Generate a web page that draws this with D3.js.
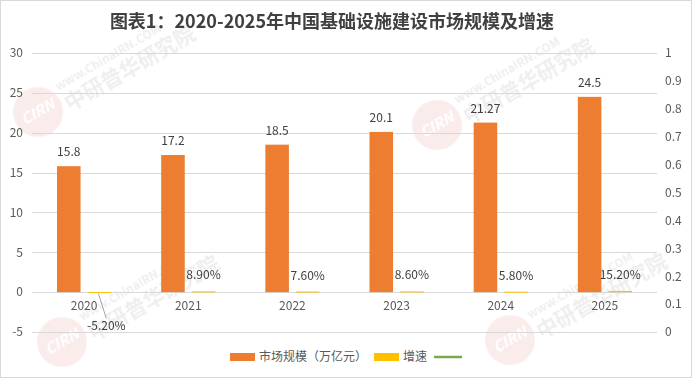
<!DOCTYPE html>
<html>
<head>
<meta charset="utf-8">
<script src="https://cdn.jsdelivr.net/npm/d3@7"></script>
<style>
  html, body { margin: 0; padding: 0; background: #fff; }
  svg { display: block; font-family: "Microsoft YaHei", "Noto Sans CJK SC", "Noto Sans", sans-serif; }
</style>
</head>
<body>
<div id="chart"></div>
<script>
// Data
const years = ["2020", "2021", "2022", "2023", "2024", "2025"]
const marketSize = [15.8, 17.2, 18.5, 20.1, 21.27, 24.5]   // 万亿元
const growthPct = [-5.2, 8.9, 7.6, 8.6, 5.8, 15.2]         // %
const leftTicks = [-5, 0, 5, 10, 15, 20, 25, 30]
const rightTicks = [0, 0.1, 0.2, 0.3, 0.4, 0.5, 0.6, 0.7, 0.8, 0.9, 1]
const titleText = "图表1：2020-2025年中国基础设施建设市场规模及增速"
const legendItems = [
  { label: "市场规模（万亿元）", color: "#ED7D31", type: "rect" },
  { label: "增速", color: "#FFC000", type: "rect" },
  { label: "", color: "#70AD47", type: "line" }
]
const watermarks = [[38, 112], [437, 125], [62, 342], [510, 340]]

const width = 692, height = 378
const plot = { left: 32, right: 657, top: 53, bottom: 332 }

const svg = d3.select("#chart")
  .append("svg")
  .attr("width", width)
  .attr("height", height)

svg.append("rect")
  .attr("x", 0.5).attr("y", 0.5)
  .attr("width", width - 1).attr("height", height - 1)
  .attr("fill", "#fff")
  .attr("stroke", "#d9d9d9")

// Watermarks (faint)
const wm = svg.append("g").attr("opacity", 0.35)
watermarks.forEach(([cx, cy]) => {
  const g = wm.append("g").attr("transform", `translate(${cx},${cy}) rotate(-30)`)
  g.append("circle").attr("r", 25).attr("fill", "#eba3a3").attr("opacity", 0.6)
  g.append("text")
    .text("CIRN")
    .attr("text-anchor", "middle").attr("dy", "0.35em")
    .attr("font-size", 15).attr("font-weight", "bold").attr("font-style", "italic")
    .attr("fill", "#fff")
  g.append("text")
    .text("www.ChinaIRN.COM")
    .attr("x", 28).attr("y", -8)
    .attr("font-size", 12).attr("font-weight", "bold")
    .attr("fill", "#cfcfcf")
  g.append("text")
    .text("中研普华研究院")
    .attr("x", 28).attr("y", 15)
    .attr("font-size", 21).attr("font-weight", "bold")
    .attr("fill", "#cfcfcf")
})

// Scales
const x = d3.scaleBand()
  .domain(years)
  .range([plot.left, plot.right])
  .paddingInner(0.48)
  .paddingOuter(0.24)

const xInner = d3.scaleBand()
  .domain(["size", "growth"])
  .range([0, x.bandwidth()])
  .paddingInner(0.23)

const y = d3.scaleLinear().domain([-5, 30]).range([plot.bottom, plot.top])
const yRight = d3.scaleLinear().domain([0, 1]).range([plot.bottom, plot.top])

// Gridlines
svg.append("g")
  .selectAll("line")
  .data(leftTicks)
  .join("line")
  .attr("x1", plot.left).attr("x2", plot.right)
  .attr("y1", d => Math.round(y(d)) + 0.5)
  .attr("y2", d => Math.round(y(d)) + 0.5)
  .attr("stroke", "#d9d9d9")

// Axes
const leftAxis = svg.append("g")
  .attr("transform", `translate(${plot.left - 9},0)`)
  .call(d3.axisLeft(y).tickValues(leftTicks).tickSize(0).tickPadding(0).tickFormat(d => String(d)))
leftAxis.select(".domain").remove()

const rightAxis = svg.append("g")
  .attr("transform", `translate(${plot.right + 8},0)`)
  .call(d3.axisRight(yRight).tickValues(rightTicks).tickSize(0).tickPadding(0).tickFormat(d => String(+d.toFixed(1))))
rightAxis.select(".domain").remove()

const xAxis = svg.append("g")
  .attr("transform", `translate(0,${y(0) + 9})`)
  .call(d3.axisBottom(x).tickSize(0).tickPadding(0))
xAxis.select(".domain").remove()
xAxis.selectAll("text").attr("dy", "0.71em")

svg.selectAll(".tick text")
  .attr("font-family", "\"Microsoft YaHei\", \"Noto Sans CJK SC\", sans-serif")
  .attr("font-size", 12)
  .attr("fill", "#595959")

// Bars
svg.append("g")
  .selectAll("rect")
  .data(years.map((yr, i) => ({ yr, v: marketSize[i] })))
  .join("rect")
  .attr("x", d => x(d.yr) + xInner("size"))
  .attr("width", xInner.bandwidth())
  .attr("y", d => y(d.v))
  .attr("height", d => y(0) - y(d.v))
  .attr("fill", "#ED7D31")

const growthData = years.map((yr, i) => ({ yr, v: growthPct[i] / 100, pct: growthPct[i] }))
svg.append("g")
  .selectAll("rect")
  .data(growthData)
  .join("rect")
  .attr("x", d => x(d.yr) + xInner("growth"))
  .attr("width", xInner.bandwidth())
  .attr("y", d => y(Math.max(0, d.v)))
  .attr("height", d => Math.max(1, Math.abs(y(d.v) - y(0))))
  .attr("fill", "#FFC000")

// Data labels
svg.append("g")
  .selectAll("text")
  .data(years.map((yr, i) => ({ yr, v: marketSize[i] })))
  .join("text")
  .attr("x", d => x(d.yr) + xInner("size") + xInner.bandwidth() / 2)
  .attr("y", d => y(d.v) - 10)
  .attr("text-anchor", "middle")
  .attr("font-size", 12)
  .attr("fill", "#404040")
  .text(d => d.v)

const growthLabels = svg.append("g")
growthData.forEach(d => {
  const cx = x(d.yr) + xInner("growth") + xInner.bandwidth() / 2
  const label = (d.pct < 0 ? "-" : "") + Math.abs(d.pct).toFixed(2) + "%"
  if (d.v >= 0) {
    growthLabels.append("text")
      .attr("x", cx)
      .attr("y", y(d.v) - 12)
      .attr("text-anchor", "middle")
      .attr("font-size", 12)
      .attr("fill", "#404040")
      .text(label)
  } else {
    // label pushed below the axis labels, with a leader line
    growthLabels.append("line")
      .attr("x1", cx - 1).attr("y1", y(d.v) + 1)
      .attr("x2", cx + 7).attr("y2", y(d.v) + 26)
      .attr("stroke", "#a6a6a6")
    growthLabels.append("text")
      .attr("x", cx + 7)
      .attr("y", y(d.v) + 37)
      .attr("text-anchor", "middle")
      .attr("font-size", 12)
      .attr("fill", "#404040")
      .text(label)
  }
})

// Title
svg.append("text")
  .attr("x", 332)
  .attr("y", 28)
  .attr("text-anchor", "middle")
  .attr("font-size", 18)
  .attr("font-weight", "bold")
  .attr("fill", "#404040")
  .text(titleText)

// Legend
const legend = svg.append("g").attr("transform", "translate(230,357)")
let lx = 0
legendItems.forEach(item => {
  if (item.type === "rect") {
    legend.append("rect")
      .attr("x", lx).attr("y", -4)
      .attr("width", 25).attr("height", 8)
      .attr("fill", item.color)
  } else {
    legend.append("line")
      .attr("x1", lx).attr("x2", lx + 28)
      .attr("y1", 0).attr("y2", 0)
      .attr("stroke", item.color)
      .attr("stroke-width", 2.5)
  }
  lx += item.type === "rect" ? 29 : 28
  if (item.label) {
    const t = legend.append("text")
      .attr("x", lx).attr("dy", "0.35em")
      .attr("font-size", 12)
      .attr("fill", "#595959")
      .text(item.label)
    lx += t.node().getComputedTextLength() + 7
  }
})
</script>
</body>
</html>
